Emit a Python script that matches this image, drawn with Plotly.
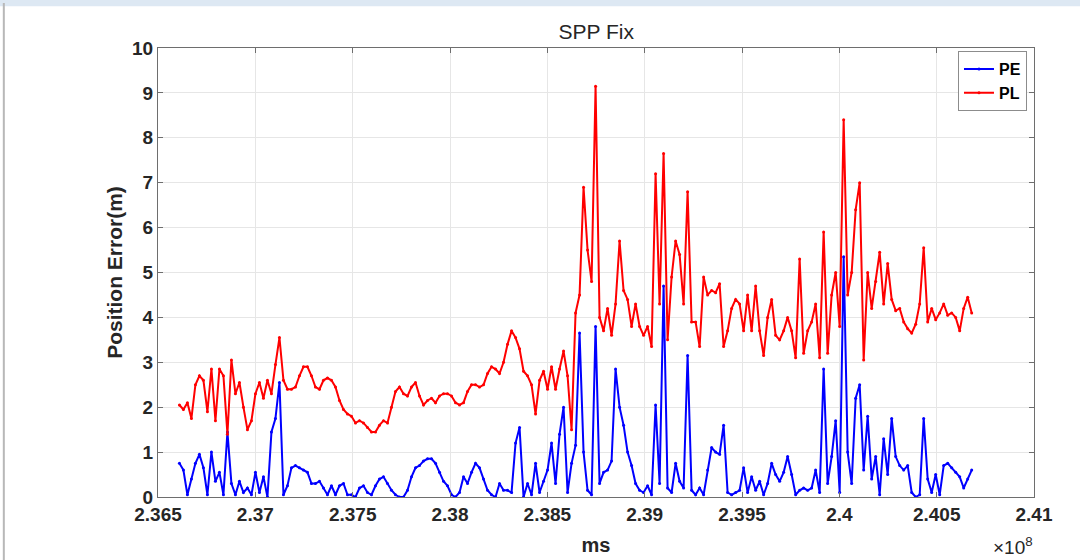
import numpy as np
import plotly.graph_objects as go

# epoch span of the fix log (ms)
t_start = 236610000
t_end = 240680000

# position error (m)
pe = [
    0.75, 0.6, 0.05, 0.4, 0.75, 0.95, 0.65, 0.05, 1.0, 0.35,
    0.55, 0.05, 1.45, 0.3, 0.05, 0.35, 0.1, 0.2, 0.05, 0.55,
    0.1, 0.45, 0.0, 1.45, 1.75, 2.55, 0.05, 0.25, 0.65, 0.7,
    0.65, 0.6, 0.55, 0.3, 0.3, 0.35, 0.2, 0.05, 0.25, 0.05,
    0.25, 0.3, 0.05, 0.05, 0.0, 0.2, 0.25, 0.1, 0.05, 0.25,
    0.4, 0.45, 0.3, 0.15, 0.05, 0.0, 0.0, 0.15, 0.45, 0.65,
    0.7, 0.8, 0.85, 0.85, 0.75, 0.55, 0.35, 0.25, 0.05, 0.0,
    0.1, 0.45, 0.3, 0.55, 0.75, 0.65, 0.4, 0.15, 0.05, 0.0,
    0.3, 0.15, 0.15, 0.1, 1.2, 1.55, 0.0, 0.3, 0.05, 0.75,
    0.1, 0.35, 0.6, 1.2, 0.3, 1.4, 2.0, 0.1, 0.75, 1.15,
    3.65, 1.0, 0.15, 0.05, 3.8, 0.3, 0.55, 0.6, 0.8, 2.85,
    2.0, 1.6, 1.0, 0.7, 0.3, 0.15, 0.1, 0.25, 0.05, 2.05,
    0.3, 4.7, 0.2, 0.1, 0.75, 0.35,
    0.2, 3.15, 0.15, 0.05, 0.2, 0.05, 0.6, 1.1, 1.0, 0.95,
    1.6, 0.1, 0.05, 0.1, 0.15, 0.65, 0.1, 0.45, 0.15, 0.35,
    0.05, 0.3, 0.75, 0.5, 0.35, 0.55, 0.9, 0.5, 0.05, 0.15,
    0.2, 0.15, 0.2, 0.6, 0.1, 2.85, 0.3, 0.9, 1.7, 0.1,
    5.35, 1.0, 0.3, 2.2, 2.5, 0.6, 1.8, 0.4, 0.9, 0.05,
    1.3, 0.5, 1.75, 0.9, 0.7, 0.6, 0.7, 0.1, 0.0, 0.05,
    1.75, 0.4, 0.1, 0.5, 0.05, 0.7, 0.75, 0.65, 0.55, 0.45,
    0.2, 0.4, 0.6,
]

# protection level (m)
pl = [
    2.05, 1.95, 2.1, 1.75, 2.5, 2.7, 2.6, 1.9, 2.85, 1.7,
    2.85, 2.7, 1.4, 3.05, 2.3, 2.55, 2.0, 1.5, 1.7, 2.3,
    2.55, 2.2, 2.6, 2.3, 2.95, 3.55, 2.6, 2.4, 2.4, 2.45,
    2.7, 2.9, 2.9, 2.7, 2.45, 2.4, 2.6, 2.65, 2.6, 2.45,
    2.15, 1.95, 1.85, 1.8, 1.65, 1.7, 1.65, 1.55, 1.45, 1.45,
    1.6, 1.7, 1.65, 2.0, 2.35, 2.45, 2.3, 2.25, 2.45, 2.55,
    2.25, 2.05, 2.15, 2.2, 2.1, 2.25, 2.3, 2.3, 2.25, 2.1,
    2.05, 2.1, 2.35, 2.5, 2.5, 2.45, 2.5, 2.75, 2.9, 2.85,
    2.75, 3.0, 3.4, 3.7, 3.55, 3.3, 2.8, 2.7, 2.5, 1.85,
    2.6, 2.8, 2.4, 2.9, 2.4, 2.85, 3.25, 2.7, 1.5, 4.1,
    4.5, 6.9, 5.5, 4.8, 9.15, 4.0, 3.7, 4.2, 3.6, 4.3,
    5.7, 4.6, 4.4, 3.8, 4.3, 3.8, 3.6, 3.8, 3.35, 7.2,
    4.3, 7.65, 3.5, 4.9, 5.7, 5.4,
    4.3, 6.8, 3.9, 3.9, 3.35, 4.9, 4.5, 4.6, 4.55, 4.75,
    3.35, 3.7, 4.2, 4.4, 4.3, 3.7, 4.5, 3.7, 4.7, 3.7,
    3.15, 4.0, 4.4, 3.6, 3.5, 3.7, 4.0, 3.7, 3.1, 5.3,
    3.2, 3.7, 3.9, 4.3, 3.1, 5.9, 3.2, 4.5, 5.0, 3.8,
    8.4, 4.5, 5.0, 6.4, 7.0, 3.05, 5.0, 4.2, 4.8, 5.45,
    4.3, 5.2, 4.4, 4.15, 4.2, 3.9, 3.75, 3.65, 3.85, 4.3,
    5.55, 3.9, 4.2, 3.95, 4.1, 4.3, 4.05, 4.1, 4.0, 3.7,
    4.2, 4.45, 4.1,
]

x_ticks = [2.365e8, 2.37e8, 2.375e8, 2.38e8, 2.385e8, 2.39e8, 2.395e8, 2.4e8, 2.405e8, 2.41e8]
x_labels = ["2.365", "2.37", "2.375", "2.38", "2.385", "2.39", "2.395", "2.4", "2.405", "2.41"]

t_pe = np.linspace(t_start, t_end, len(pe))
t_pl = np.linspace(t_start, t_end, len(pl))

font = "Liberation Sans, Arial, Helvetica, sans-serif"
ink = "#262626"

fig = go.Figure()
fig.add_trace(go.Scatter(x=t_pe, y=pe, name="PE", mode="lines+markers",
                         line=dict(color="#0000ff", width=2),
                         marker=dict(color="#0000ff", size=3)))
fig.add_trace(go.Scatter(x=t_pl, y=pl, name="PL", mode="lines+markers",
                         line=dict(color="#ff0000", width=2),
                         marker=dict(color="#ff0000", size=3)))

axis_style = dict(showline=True, linecolor="#6e6e6e", linewidth=1, mirror="allticks",
                  ticks="inside", ticklen=5, tickcolor="#6e6e6e", automargin=False,
                  showgrid=True, gridcolor="#e6e6e6", gridwidth=1, zeroline=False,
                  tickfont=dict(family=font, size=19, color=ink, weight="bold"))

fig.update_xaxes(range=[2.365e8, 2.41e8], tickvals=x_ticks, ticktext=x_labels,
                 title=dict(text="ms", font=dict(family=font, size=20, color=ink, weight="bold"), standoff=14),
                 **axis_style)
fig.update_yaxes(range=[0, 10], dtick=1,
                 title=dict(text="Position Error(m)", font=dict(family=font, size=21, color=ink, weight="bold"), standoff=3),
                 **axis_style)

fig.update_layout(
    width=1080, height=560,
    margin=dict(l=158, r=46, t=48, b=63),
    paper_bgcolor="white", plot_bgcolor="white",
    title=dict(text="SPP Fix", x=0.552, xanchor="center", y=0.943, yanchor="middle",
               font=dict(family=font, size=21, color=ink)),
    legend=dict(x=0.992, y=0.993, xanchor="right", yanchor="top",
                bgcolor="white", bordercolor="#8c8c8c", borderwidth=1,
                font=dict(family=font, size=16, color="#000000", weight="bold"),
                tracegroupgap=0, itemwidth=30),
    showlegend=True,
    # window frame around the exported figure
    shapes=[
        dict(type="rect", xref="paper", yref="paper", x0=-0.2, x1=1.06, y0=1.093, y1=1.12,
             fillcolor="#dde8f3", line=dict(width=0), layer="below"),
        dict(type="line", xref="paper", yref="paper", x0=-0.176, x1=-0.176, y0=-0.15, y1=1.1,
             line=dict(color="#b8b8b8", width=2)),
    ],
    annotations=[
        dict(text="×10<sup>8</sup>", xref="paper", yref="paper", x=1.001, y=-0.11,
             xanchor="right", yanchor="middle", showarrow=False,
             font=dict(family=font, size=19, color=ink)),
    ],
)

fig.write_html("out.html", config={"displayModeBar": False},
               post_script="document.body.style.margin='0px';")
